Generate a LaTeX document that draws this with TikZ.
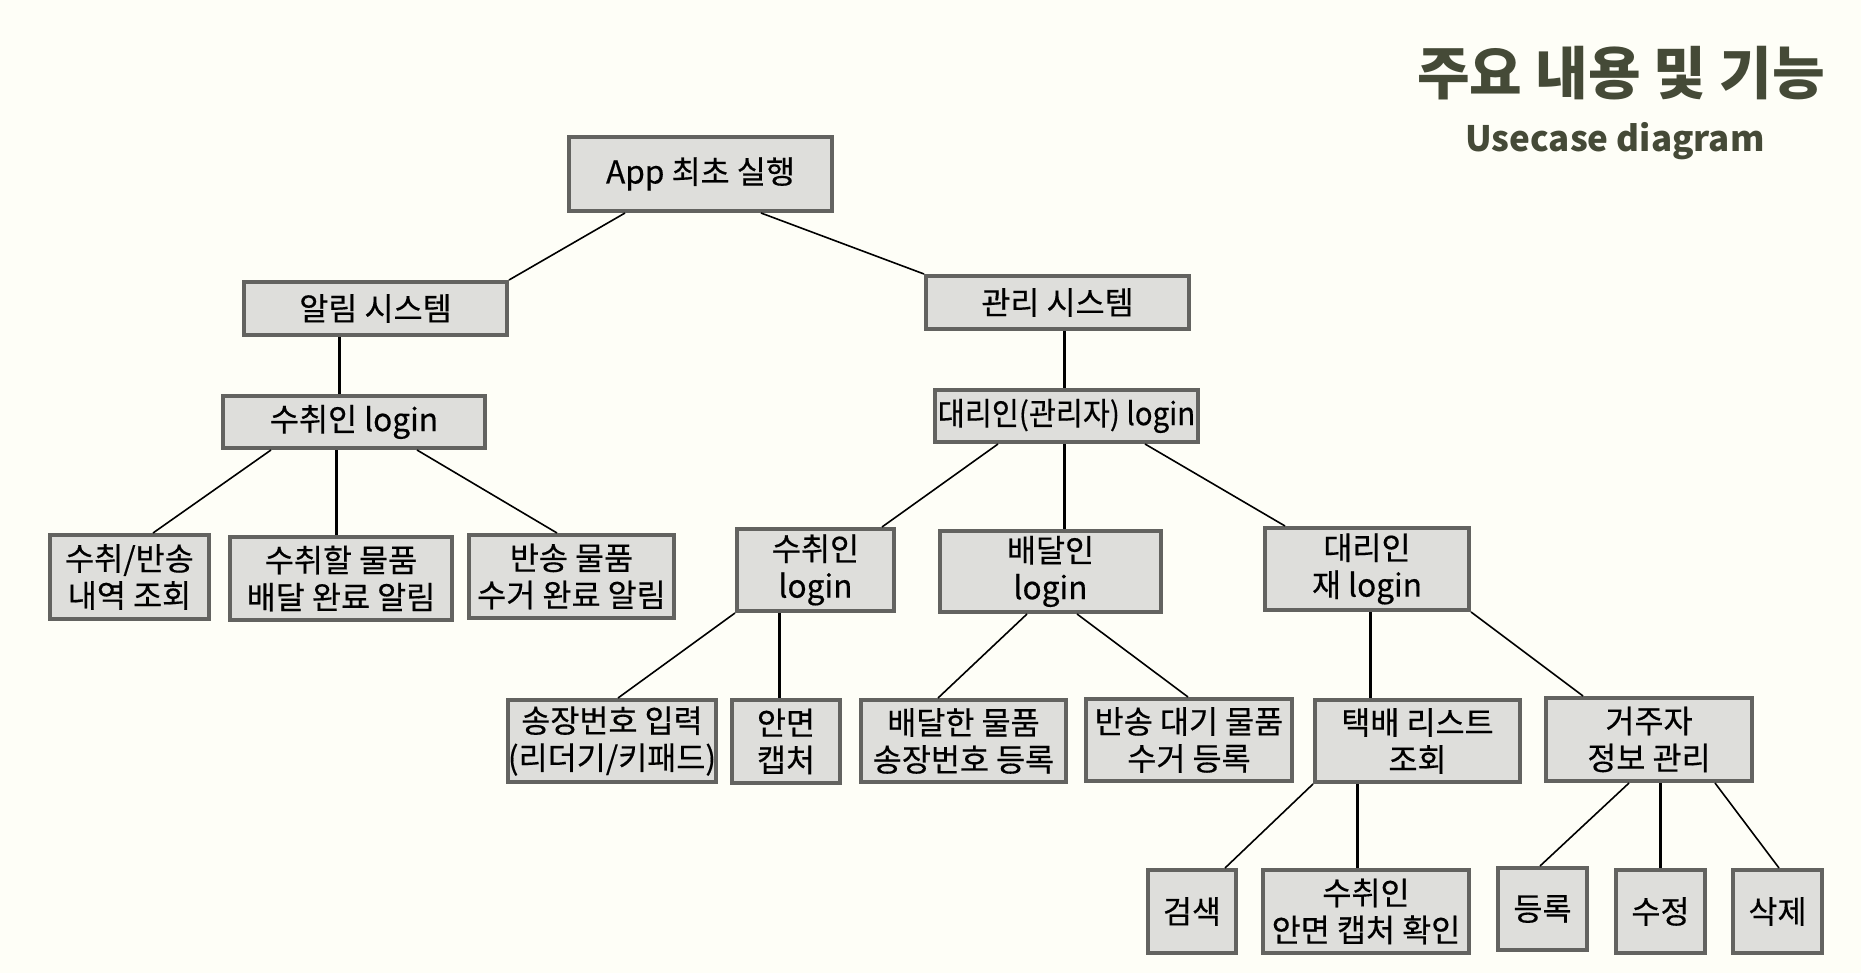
\documentclass[tikz,border=0pt]{standalone}
\usepackage{fontspec}
\setmainfont{Noto Sans CJK KR}
\newfontfamily\boxfont[FakeBold=0.4]{Noto Sans CJK KR}
\newfontfamily\boxnarrowfont[FakeBold=0.4,FakeStretch=0.93]{Noto Sans CJK KR}
\usetikzlibrary{calc}
\definecolor{bgc}{HTML}{FEFEF7}
\definecolor{boxfill}{HTML}{DEDEDB}
\definecolor{boxline}{HTML}{636360}
\definecolor{titlec}{HTML}{454A37}
\begin{document}
\begin{tikzpicture}[x=0.5pt,y=-0.5pt,
  box/.style={draw=boxline, line width=2pt, fill=boxfill, inner sep=0pt, align=center,
    font=\boxfont\fontsize{15.8}{18.5}\selectfont},
  narrowtext/.style={font=\boxnarrowfont\fontsize{15.8}{18.5}\selectfont},
  sz/.style 2 args={minimum width=#1*0.5pt-2pt, minimum height=#2*0.5pt-2pt},
  diag/.style={draw=black, line width=0.8pt},
  vert/.style={draw=black, line width=1.5pt},
  ttl/.style={text=titlec, anchor=base, inner sep=0pt}]
\fill[bgc] (0,0) rectangle (1861,973);
\useasboundingbox (0,0) rectangle (1861,973);

\node[ttl, font=\fontsize{28.6}{32}\selectfont\bfseries] (title) at (1621,95) {주요 내용 및 기능};
\node[ttl, font=\fontsize{17.5}{20}\selectfont\bfseries] (sub) at (1615,152) {Usecase diagram};

\node[box, sz={267}{78}] (app) at (700.5,174) {App 최초 실행};
\node[box, sz={267}{57}] (alarm) at (375.5,308.5) {알림 시스템};
\node[box, sz={267}{57}] (mgmt) at (1057.5,302.5) {관리 시스템};
\node[box, sz={266}{56}] (rlogin) at (354,422) {수취인 login};
\node[box, narrowtext, sz={267}{56}] (alogin) at (1066.5,416) {대리인(관리자) login};
\node[box, sz={163}{88}] (hist) at (129.5,577) {수취/반송\\내역 조회};
\node[box, sz={226}{87}] (deliv) at (341,578.5) {수취할 물품\\배달 완료 알림};
\node[box, sz={209}{87}] (retn) at (571.5,576.5) {반송 물품\\수거 완료 알림};
\node[box, sz={161}{86}] (rlogin2) at (815.5,570) {수취인\\login};
\node[box, sz={225}{85}] (dlogin) at (1050.5,571.5) {배달인\\login};
\node[box, sz={208}{86}] (relogin) at (1367,569) {대리인\\재 login};
\node[box, sz={210}{86}] (invoice) at (612,741) {송장번호 입력\\(리더기/키패드)};
\node[box, sz={112}{87}] (face) at (786,741.5) {안면\\캡처};
\node[box, sz={209}{86}] (dreg) at (963.5,741) {배달한 물품\\송장번호 등록};
\node[box, sz={210}{86}] (rreg) at (1189,740) {반송 대기 물품\\수거 등록};
\node[box, sz={209}{86}] (list) at (1417.5,741) {택배 리스트\\조회};
\node[box, sz={210}{87}] (resid) at (1649,739.5) {거주자\\정보 관리};
\node[box, sz={92}{87}] (search) at (1192,911.5) {검색};
\node[box, sz={210}{87}] (facechk) at (1366,911.5) {수취인\\안면 캡처 확인};
\node[box, sz={93}{86}] (add) at (1542.5,909) {등록};
\node[box, sz={93}{87}] (edit) at (1660.5,911.5) {수정};
\node[box, sz={93}{87}] (del) at (1777.5,911.5) {삭제};

\draw[diag] ($(app.south)+(-75.5,0)$) -- (alarm.north east);
\draw[diag] ($(app.south)+(60.5,0)$) -- (mgmt.north west);
\draw[vert] ($(alarm.south)+(-36.5,0)$) -- ($(rlogin.north)+(-15,0)$);
\draw[diag] ($(rlogin.south)+(-83,0)$) -- ($(hist.north)+(23.5,0)$);
\draw[vert] ($(rlogin.south)+(-18,0)$) -- ($(deliv.north)+(-5,0)$);
\draw[diag] ($(rlogin.south)+(63,0)$) -- ($(retn.north)+(-14.5,0)$);
\draw[vert] ($(mgmt.south)+(6.5,0)$) -- ($(alogin.north)+(-2.5,0)$);
\draw[diag] ($(alogin.south)+(-68.5,0)$) -- ($(rlogin2.north)+(66.5,0)$);
\draw[vert] ($(alogin.south)+(-2.5,0)$) -- ($(dlogin.north)+(13.5,0)$);
\draw[diag] ($(alogin.south)+(78.5,0)$) -- ($(relogin.north)+(-82,0)$);
\draw[diag] (rlogin2.south west) -- ($(invoice.north)+(6,0)$);
\draw[vert] ($(rlogin2.south)+(-36.5,0)$) -- ($(face.north)+(-7,0)$);
\draw[diag] ($(dlogin.south)+(-23.5,0)$) -- ($(dreg.north)+(-25.5,0)$);
\draw[diag] ($(dlogin.south)+(26.5,0)$) -- ($(rreg.north)+(-1,0)$);
\draw[vert] ($(relogin.south)+(3,0)$) -- ($(list.north)+(-47.5,0)$);
\draw[diag] (relogin.south east) -- ($(resid.north)+(-66,0)$);
\draw[diag] (list.south west) -- ($(search.north)+(33,0)$);
\draw[vert] ($(list.south)+(-60.5,0)$) -- ($(facechk.north)+(-9,0)$);
\draw[diag] ($(resid.south)+(-20,0)$) -- ($(add.north)+(-2.5,0)$);
\draw[vert] ($(resid.south)+(11,0)$) -- ($(edit.north)+(-0.5,0)$);
\draw[diag] ($(resid.south)+(66,0)$) -- ($(del.north)+(1.5,0)$);
\end{tikzpicture}
\end{document}
